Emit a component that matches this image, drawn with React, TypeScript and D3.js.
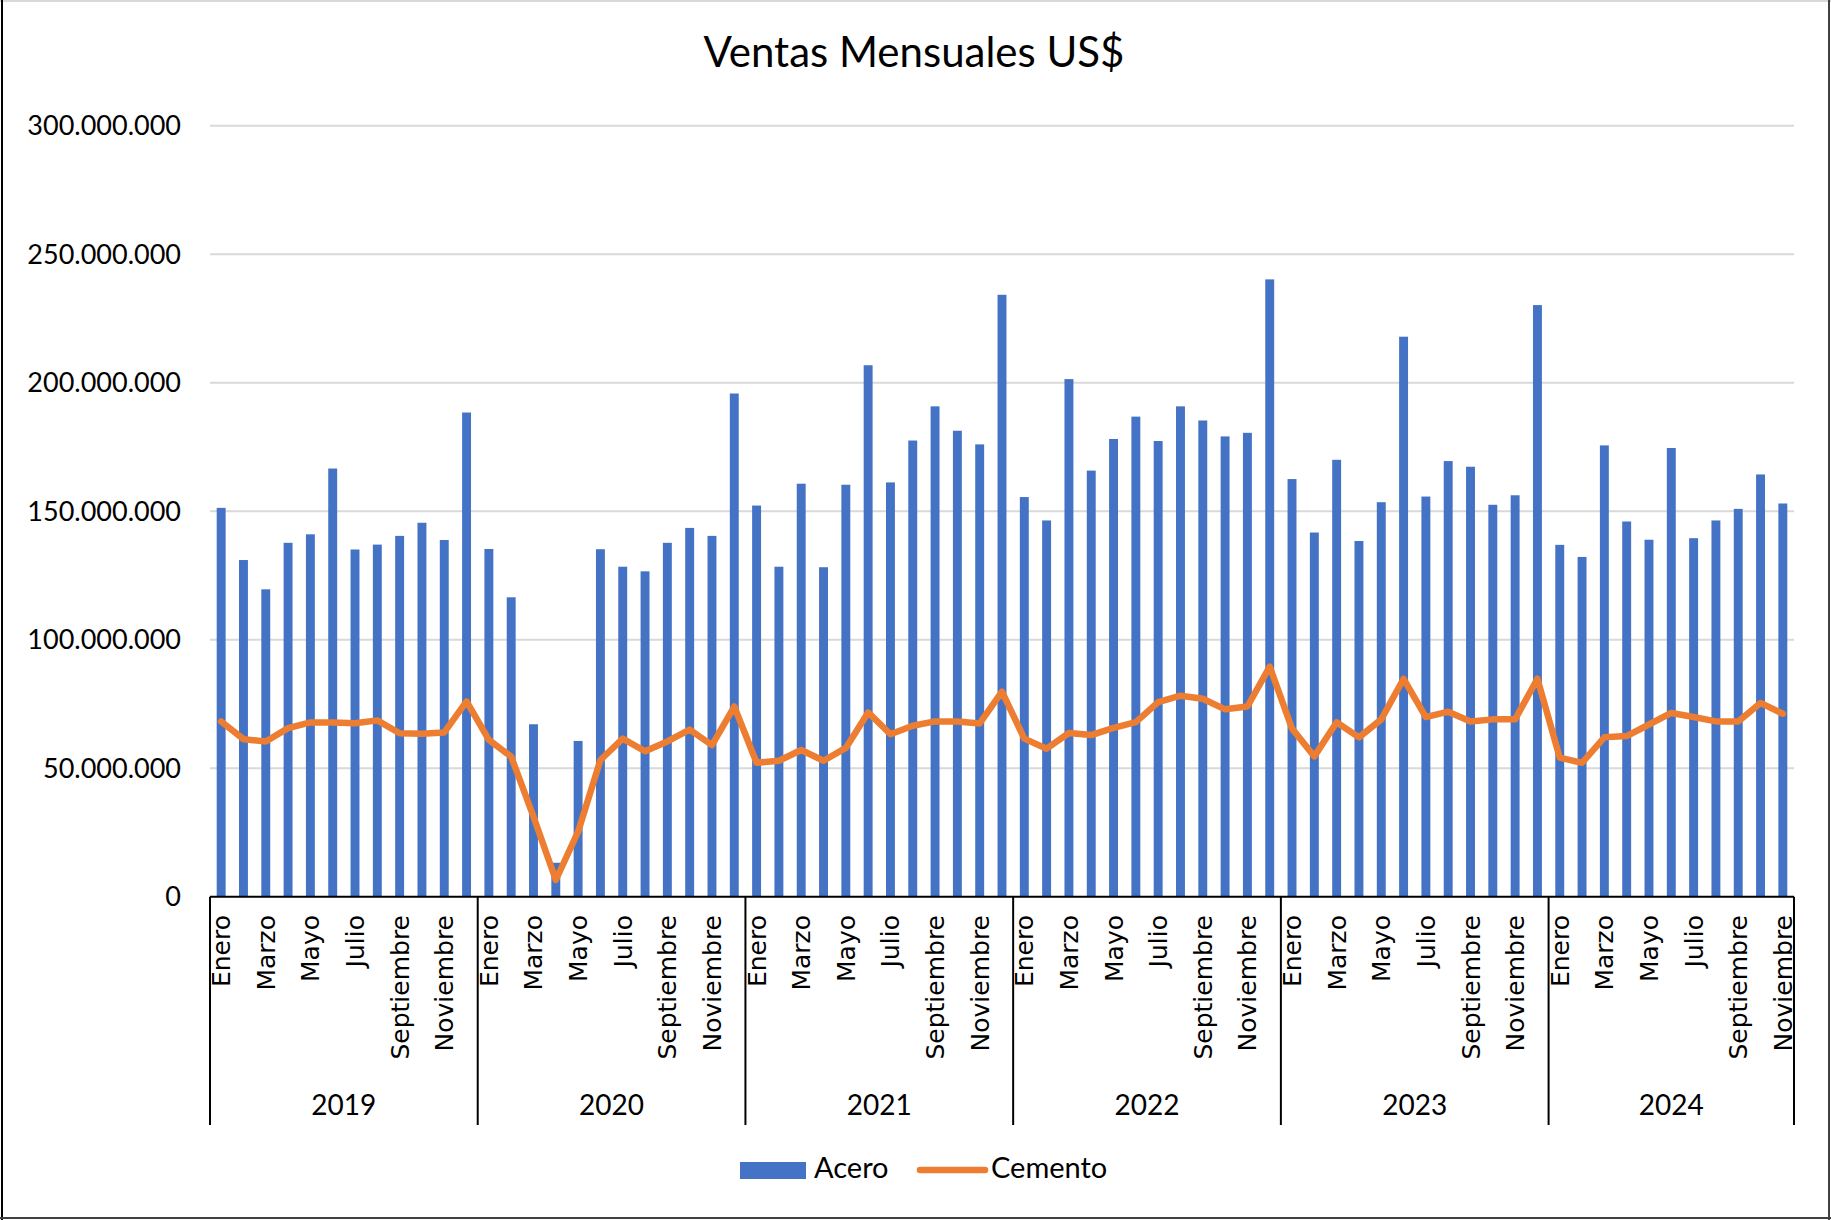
import React from "react";
import * as d3 from "d3";

// valores en millones de US$
const years = ["2019", "2020", "2021", "2022", "2023", "2024"];
const monthsPerYear = [12, 12, 12, 12, 12, 11];
const monthNames = [
  "Enero", "Febrero", "Marzo", "Abril", "Mayo", "Junio",
  "Julio", "Agosto", "Septiembre", "Octubre", "Noviembre", "Diciembre",
];

const acero = [
  151.3, 131.0, 119.6, 137.7, 141.0, 166.6, 135.1, 137.0, 140.4, 145.5, 138.8, 188.4,
  135.3, 116.5, 67.1, 13.2, 60.6, 135.2, 128.4, 126.6, 137.7, 143.5, 140.4, 195.8,
  152.2, 128.4, 160.7, 128.2, 160.3, 206.8, 161.2, 177.5, 190.8, 181.3, 176.0, 234.2,
  155.5, 146.4, 201.4, 165.8, 178.1, 186.8, 177.3, 190.8, 185.3, 179.1, 180.5, 240.2,
  162.5, 141.7, 170.0, 138.4, 153.5, 217.9, 155.7, 169.5, 167.3, 152.5, 156.2, 230.2,
  136.9, 132.2, 175.6, 146.0, 138.9, 174.6, 139.5, 146.4, 150.9, 164.3, 153.0,
];

const cemento = [
  68.2, 61.3, 60.4, 65.6, 67.8, 67.8, 67.5, 68.6, 63.6, 63.4, 63.9, 76.0,
  61.0, 54.5, 31.2, 6.5, 25.3, 53.2, 61.5, 56.6, 60.4, 65.0, 59.0, 74.0,
  52.1, 52.9, 57.1, 52.9, 57.9, 71.7, 63.2, 66.5, 68.2, 68.2, 67.4, 79.8,
  61.5, 57.6, 63.7, 62.9, 65.7, 67.9, 75.7, 78.2, 77.0, 72.9, 74.0, 89.5,
  65.4, 54.6, 67.9, 62.0, 69.0, 84.8, 69.9, 72.0, 68.2, 69.0, 69.0, 84.8,
  54.1, 52.1, 62.0, 62.5, 67.0, 71.5, 69.9, 68.2, 68.2, 75.4, 71.2,
];

const yTicks = [0, 50e6, 100e6, 150e6, 200e6, 250e6, 300e6];

const W = 1831;
const H = 1220;
const FONT = "Lato, 'Open Sans', sans-serif";

const locale = d3.formatLocale({ decimal: ",", thousands: ".", grouping: [3], currency: ["$", ""] });
const fmt = locale.format(",.0f");

export default function App() {
  const idx = d3.range(acero.length);
  const x = d3.scaleBand<number>().domain(idx).range([210, 1794]).padding(0);
  const y = d3.scaleLinear().domain([0, 300e6]).range([896.7, 125.7]);
  const bw = x.bandwidth() * 0.4;

  const line = d3
    .line<number>()
    .x((d, i) => (x(i) as number) + x.bandwidth() / 2)
    .y((d) => y(d * 1e6));

  // limites de cada año
  const starts: number[] = [];
  let acc = 0;
  monthsPerYear.forEach((n) => {
    starts.push(acc);
    acc += n;
  });
  const yearOf = (i: number) => starts.findIndex((s, k) => i >= s && i < s + monthsPerYear[k]);

  return (
    <svg width={W} height={H} style={{ position: "absolute", left: 0, top: 0, background: "#fff" }}>
      <rect x={0} y={0} width={W} height={H} fill="#fff" />
      <line x1={0} y1={1} x2={W} y2={1} stroke="#d9d9d9" strokeWidth={2} />
      <line x1={2} y1={0} x2={2} y2={H} stroke="#000" strokeWidth={2} />
      <line x1={W - 2} y1={0} x2={W - 2} y2={H} stroke="#404040" strokeWidth={2} />
      <line x1={0} y1={H - 2} x2={W} y2={H - 2} stroke="#404040" strokeWidth={2} />

      <text x={914} y={67} textAnchor="middle" fontFamily={FONT} fontSize={42} fill="#000">
        Ventas Mensuales US$
      </text>

      {/* grid + eje Y */}
      {yTicks.map((t) => (
        <g key={t}>
          {t > 0 && <line x1={210} x2={1794} y1={y(t)} y2={y(t)} stroke="#d9d9d9" strokeWidth={2} />}
          <text x={181} y={y(t)} dy="0.35em" textAnchor="end" fontFamily={FONT} fontSize={27} fill="#000">
            {fmt(t)}
          </text>
        </g>
      ))}

      {/* barras Acero */}
      {acero.map((v, i) => (
        <rect
          key={i}
          x={(x(i) as number) + (x.bandwidth() - bw) / 2}
          y={y(v * 1e6)}
          width={bw}
          height={y(0) - y(v * 1e6)}
          fill="#4472C4"
        />
      ))}

      {/* linea Cemento */}
      <path d={line(cemento) || ""} fill="none" stroke="#ED7D31" strokeWidth={6.5} strokeLinejoin="round" strokeLinecap="round" />

      {/* eje X */}
      <line x1={210} x2={1794} y1={y(0)} y2={y(0)} stroke="#000" strokeWidth={2} />
      {starts.map((s, k) => (
        <line key={"t" + k} x1={x(s)} x2={x(s)} y1={y(0)} y2={1125} stroke="#000" strokeWidth={2} />
      ))}
      <line x1={1794} x2={1794} y1={y(0)} y2={1125} stroke="#000" strokeWidth={2} />

      {idx.map((i) => {
        const m = i - starts[yearOf(i)];
        if (m % 2 !== 0) return null;
        const cx = (x(i) as number) + x.bandwidth() / 2;
        return (
          <text
            key={"m" + i}
            transform={`translate(${cx},915) rotate(-90)`}
            dy="0.36em"
            textAnchor="end"
            fontFamily="'DejaVu Sans', Verdana, sans-serif"
            fontSize={25}
            fill="#000"
          >
            {monthNames[m]}
          </text>
        );
      })}

      {years.map((yr, k) => {
        const x0 = x(starts[k]) as number;
        const x1 = x0 + monthsPerYear[k] * x.bandwidth();
        return (
          <text key={yr} x={(x0 + x1) / 2} y={1115} textAnchor="middle" fontFamily={FONT} fontSize={28} fill="#000">
            {yr}
          </text>
        );
      })}

      {/* leyenda */}
      <rect x={740} y={1162} width={66} height={17} fill="#4472C4" />
      <text x={814} y={1178} fontFamily={FONT} fontSize={29} fill="#000">
        Acero
      </text>
      <line x1={920} x2={985} y1={1170} y2={1170} stroke="#ED7D31" strokeWidth={6.5} strokeLinecap="round" />
      <text x={991} y={1178} fontFamily={FONT} fontSize={29} fill="#000">
        Cemento
      </text>
    </svg>
  );
}
